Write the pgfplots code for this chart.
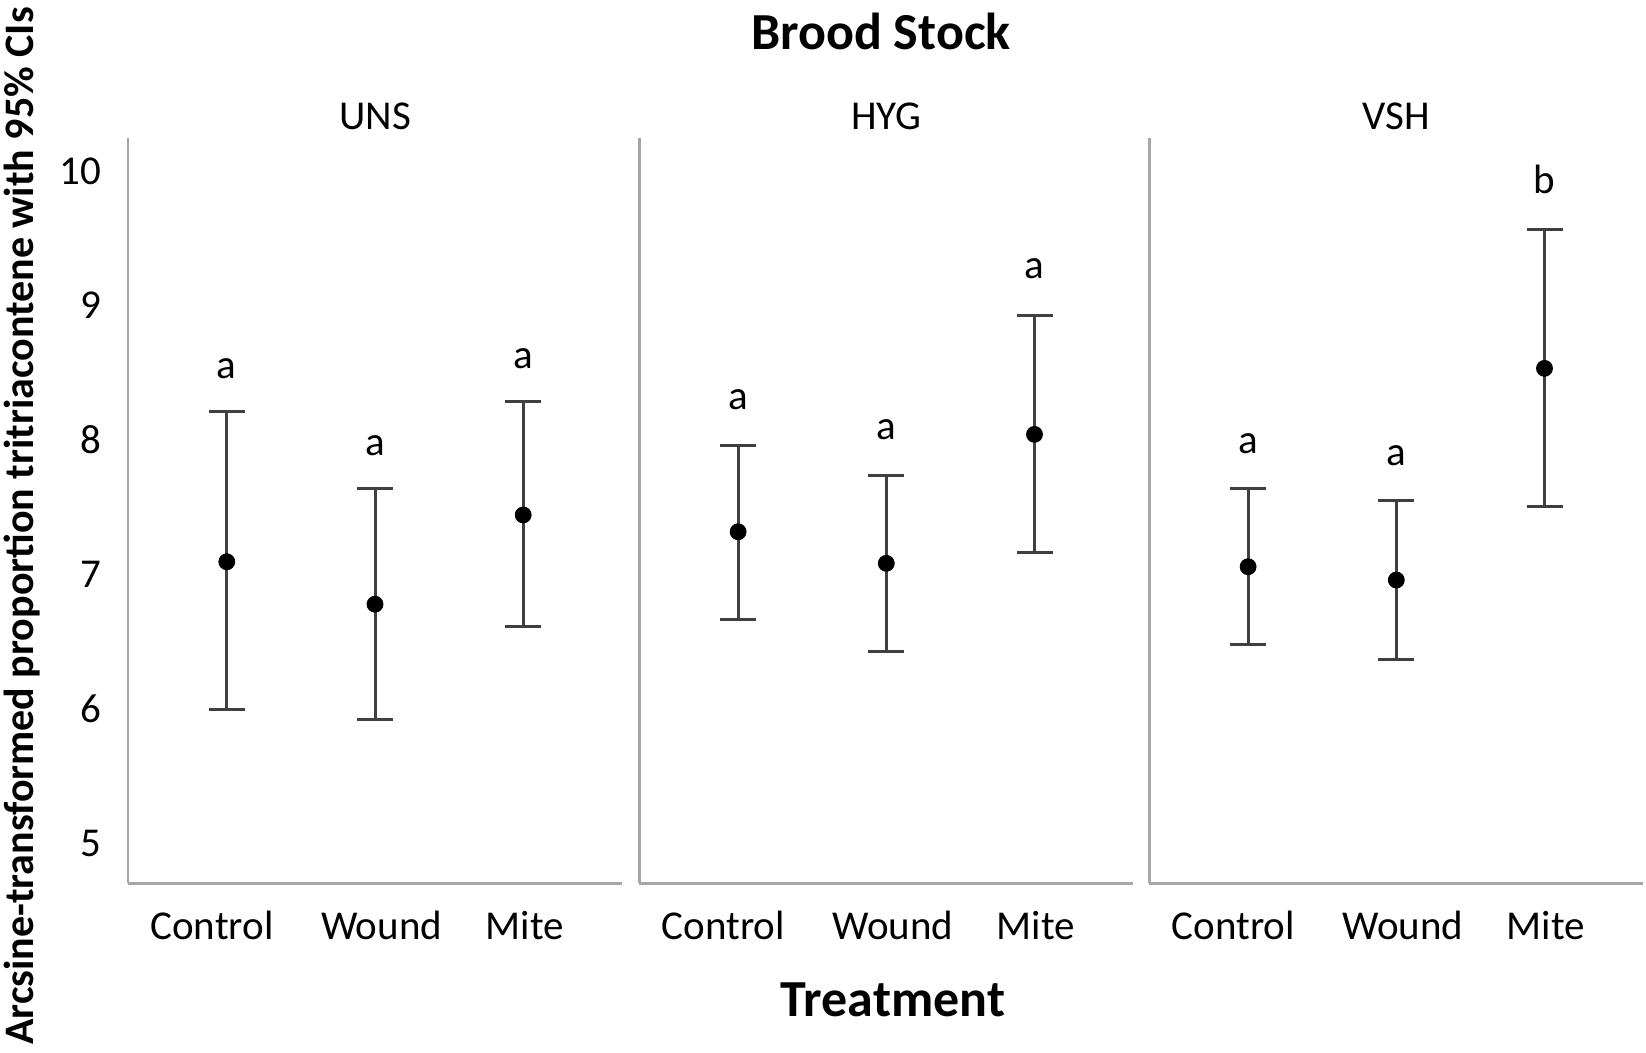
\documentclass[border=0pt]{standalone}
\usepackage{fontspec}
\setmainfont{Carlito}
\usepackage{pgfplots}
\usepackage{pgfplotstable}
\pgfplotsset{compat=1.18}
\definecolor{axgray}{HTML}{A6A6A6}
\definecolor{bargray}{HTML}{404040}

\pgfplotstableread{
x y lo hi
1 7.132 6.030 8.248
2 6.816 5.961 7.673
3 7.480 6.649 8.322
}\uns
\pgfplotstableread{
x y lo hi
1 7.355 6.706 8.000
2 7.120 6.468 7.777
3 8.079 7.199 8.961
}\hyg
\pgfplotstableread{
x y lo hi
1 7.095 6.513 7.678
2 6.996 6.407 7.586
3 8.570 7.541 9.604
}\vsh

\newcommand{\lbl}{\fontsize{20.5bp}{24bp}\selectfont}
\newcommand{\ttl}{\fontsize{26bp}{30bp}\selectfont\bfseries}

\pgfplotsset{
  panel/.style={
    scale only axis, width=247bp, height=372.65bp,
    xmin=0.3333, xmax=3.6667, ymin=4.741, ymax=10.283,
    axis x line*=bottom, axis y line*=left,
    axis line style={draw=axgray, line width=1.25bp, -},
    xtick={0.9,2.045,3.01}, xticklabels={Control,Wound,Mite},
    ytick={5,6,7,8,9,10},
    major tick length=0pt,
    tick label style={font=\lbl},
    xticklabel style={anchor=base, yshift=-28.2bp},
    yticklabel style={anchor=east, inner sep=0pt, xshift=-13.15bp, yshift=2.5bp},
    /pgf/number format/assume math mode=true,
    title style={font=\lbl, anchor=base, yshift=-1.85bp},
    clip=false,
  },
  ci/.style={only marks, mark=*, mark size=4bp, black,
    mark options={draw=black, fill=black},
    error bars/.cd, y dir=both, y explicit, error mark=-,
    error bar style={line width=1.5bp, draw=bargray},
    error mark options={rotate=90, line width=1.5bp, draw=bargray, mark size=9bp}},
}

\begin{document}
\begin{tikzpicture}
\useasboundingbox (0,0) rectangle (823bp,526.5bp);

\begin{axis}[panel, at={(64bp,84.85bp)}, anchor=south west, title={UNS}]
\addplot[ci] table[x=x, y=y, y error plus expr=\thisrow{hi}-\thisrow{y}, y error minus expr=\thisrow{y}-\thisrow{lo}] {\uns};
\node[font=\lbl] at (axis cs:1,8.570) {a};
\node[font=\lbl] at (axis cs:2,7.993) {a};
\node[font=\lbl] at (axis cs:3,8.645) {a};
\end{axis}

\begin{axis}[panel, at={(319.65bp,84.85bp)}, anchor=south west, title={HYG}, ymajorticks=false]
\addplot[ci] table[x=x, y=y, y error plus expr=\thisrow{hi}-\thisrow{y}, y error minus expr=\thisrow{y}-\thisrow{lo}] {\hyg};
\node[font=\lbl] at (axis cs:1,8.335) {a};
\node[font=\lbl] at (axis cs:2,8.112) {a};
\node[font=\lbl] at (axis cs:3,9.314) {a};
\end{axis}

\begin{axis}[panel, at={(574.65bp,84.85bp)}, anchor=south west, title={VSH}, ymajorticks=false]
\addplot[ci] table[x=x, y=y, y error plus expr=\thisrow{hi}-\thisrow{y}, y error minus expr=\thisrow{y}-\thisrow{lo}] {\vsh};
\node[font=\lbl] at (axis cs:1,8.013) {a};
\node[font=\lbl] at (axis cs:2,7.918) {a};
\node[font=\lbl] at (axis cs:3,9.978) {b};
\end{axis}

\node[font=\ttl, anchor=base] at (440.5bp,501.85bp) {Brood Stock};
\node[font=\ttl, anchor=base] at (446.5bp,18.5bp) {Treatment};
\node[font=\fontsize{21bp}{24bp}\selectfont\bfseries, rotate=90, anchor=base] at (16.5bp,263.5bp) {Arcsine-transformed proportion tritriacontene with 95\% CIs};
\end{tikzpicture}
\end{document}
